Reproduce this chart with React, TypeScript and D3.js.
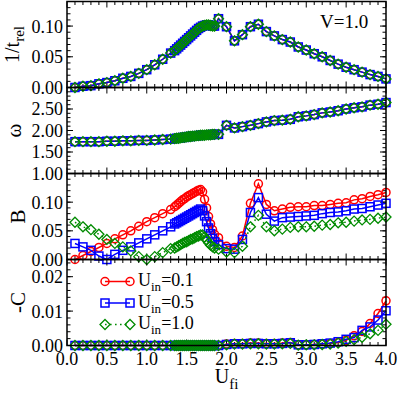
import React from 'react'
import * as d3 from 'd3'

// U_fi grid: coarse, then a fine scan across the transition, then coarse again
const U_FI = [
  0.1, 0.2, 0.3, 0.4, 0.5, 0.6, 0.7, 0.8, 0.9, 1.0, 1.1, 1.2, 1.3,
  1.35, 1.375, 1.4, 1.425, 1.45, 1.475, 1.5, 1.525, 1.55, 1.575, 1.6, 1.625, 1.65, 1.675, 1.7, 1.725, 1.75, 1.775, 1.8, 1.825, 1.85,
  1.9, 2.0, 2.1, 2.2, 2.3, 2.4, 2.5, 2.6, 2.7, 2.8, 2.9, 3.0, 3.1, 3.2, 3.3, 3.4, 3.5, 3.6, 3.7, 3.8, 3.9, 4.0,
]

// 1/t_rel and omega: the three U_in curves sit on top of each other
const T_REL = [
  0.000, 0.002, 0.003, 0.006, 0.008, 0.011, 0.015, 0.018, 0.023, 0.029, 0.037, 0.046, 0.056,
  0.060, 0.063, 0.066, 0.069, 0.072, 0.075, 0.078, 0.081, 0.084, 0.087, 0.090, 0.093, 0.096, 0.098, 0.100, 0.101, 0.102, 0.102, 0.101, 0.100, 0.100,
  0.112, 0.099, 0.076, 0.086, 0.099, 0.103, 0.091, 0.084, 0.078, 0.074, 0.066, 0.061, 0.055, 0.050, 0.044, 0.038, 0.033, 0.029, 0.025, 0.021, 0.018, 0.014,
]
const OMEGA = [
  1.74, 1.74, 1.74, 1.74, 1.75, 1.75, 1.76, 1.76, 1.77, 1.77, 1.78, 1.79, 1.80,
  1.81, 1.82, 1.82, 1.83, 1.84, 1.84, 1.85, 1.86, 1.86, 1.87, 1.87, 1.88, 1.88, 1.89, 1.89, 1.89, 1.90, 1.90, 1.90, 1.91, 1.91,
  1.91, 2.12, 2.06, 2.09, 2.12, 2.16, 2.20, 2.23, 2.24, 2.26, 2.32, 2.34, 2.37, 2.41, 2.43, 2.46, 2.50, 2.53, 2.55, 2.59, 2.61, 2.65,
]

const B_01 = [
  0.000, 0.007, 0.014, 0.021, 0.028, 0.036, 0.043, 0.050, 0.058, 0.066, 0.073, 0.080, 0.087,
  0.092, 0.095, 0.098, 0.101, 0.104, 0.106, 0.109, 0.111, 0.113, 0.115, 0.117, 0.119, 0.121, 0.122, 0.118, 0.105, 0.090, 0.075, 0.062, 0.052, 0.044,
  0.038, 0.023, 0.021, 0.041, 0.098, 0.132, 0.096, 0.085, 0.088, 0.091, 0.092, 0.092, 0.094, 0.094, 0.096, 0.098, 0.099, 0.104, 0.106, 0.110, 0.113, 0.117,
]
const B_05 = [
  0.028, 0.022, 0.016, 0.006, 0.000, 0.009, 0.016, 0.022, 0.029, 0.036, 0.043, 0.050, 0.057,
  0.062, 0.064, 0.066, 0.068, 0.070, 0.072, 0.074, 0.076, 0.078, 0.080, 0.082, 0.084, 0.086, 0.088, 0.085, 0.076, 0.066, 0.055, 0.045, 0.037, 0.031,
  0.026, 0.019, 0.018, 0.035, 0.082, 0.108, 0.079, 0.067, 0.073, 0.074, 0.075, 0.076, 0.077, 0.080, 0.082, 0.083, 0.085, 0.088, 0.089, 0.092, 0.095, 0.098,
]
const B_10 = [
  0.065, 0.057, 0.052, 0.044, 0.035, 0.028, 0.022, 0.015, 0.005, 0.000, 0.005, 0.012, 0.019,
  0.020, 0.022, 0.024, 0.026, 0.028, 0.030, 0.031, 0.033, 0.035, 0.036, 0.038, 0.040, 0.041, 0.043, 0.043, 0.039, 0.034, 0.029, 0.025, 0.022, 0.020,
  0.018, 0.013, 0.012, 0.023, 0.057, 0.077, 0.057, 0.050, 0.053, 0.056, 0.057, 0.057, 0.058, 0.060, 0.061, 0.064, 0.065, 0.067, 0.069, 0.070, 0.072, 0.074,
]

const C_01 = [
  0, 0, 0, 0, 0, 0, 0, 0, 0, 0, 0, 0, 0,
  0, 0, 0, 0, 0, 0, 0, 0, 0, 0, 0, 0, 0, 0, 0, 0, 0, 0, 0, 0, 0,
  0.0000, 0.0004, 0.0006, 0.0006, 0.0007, 0.0007, 0.0006, 0.0006, 0.0007, 0.0009, 0.0002, 0.0002, 0.0003, 0.0004, 0.0006, 0.0009, 0.0015, 0.0028, 0.0041, 0.0064, 0.0093, 0.0130,
]
const C_05 = [
  0, 0, 0, 0, 0, 0, 0, 0, 0, 0, 0, 0, 0,
  0, 0, 0, 0, 0, 0, 0, 0, 0, 0, 0, 0, 0, 0, 0, 0, 0, 0, 0, 0, 0,
  0.0000, 0.0003, 0.0005, 0.0005, 0.0006, 0.0006, 0.0005, 0.0005, 0.0006, 0.0008, 0.0002, 0.0002, 0.0003, 0.0005, 0.0007, 0.0011, 0.0018, 0.0023, 0.0044, 0.0054, 0.0074, 0.0101,
]
const C_10 = [
  0, 0, 0, 0, 0, 0, 0, 0, 0, 0, 0, 0, 0,
  0, 0, 0, 0, 0, 0, 0, 0, 0, 0, 0, 0, 0, 0, 0, 0, 0, 0, 0, 0, 0,
  0.0000, 0.0002, 0.0004, 0.0004, 0.0005, 0.0005, 0.0004, 0.0004, 0.0005, 0.0006, 0.0001, 0.0002, 0.0002, 0.0003, 0.0004, 0.0007, 0.0012, 0.0017, 0.0024, 0.0034, 0.0044, 0.0062,
]

const U_IN = ['0.1', '0.5', '1.0']
const X_TICKS = [0, 0.5, 1.0, 1.5, 2.0, 2.5, 3.0, 3.5, 4.0]
const T_REL_TICKS = [0, 0.05, 0.10]
const OMEGA_TICKS = [1.0, 1.5, 2.0, 2.5]
const B_TICKS = [0, 0.05, 0.10]
const C_TICKS = [0, 0.01, 0.02]

const W = 399
const H = 394
const X0 = 67
const X1 = 386
const PANEL_TOP = 1.5
const PANEL_H = 86
const FONT = '"Liberation Serif", "Times New Roman", serif'

const STYLES = [
  { color: '#ff0000', marker: 'circle', dash: undefined },
  { color: '#0000ff', marker: 'square', dash: undefined },
  { color: '#008b00', marker: 'diamond', dash: '1.6,3.4' },
]

const PANELS = [
  { domain: [0, 0.14], ticks: T_REL_TICKS, minor: 0.01, fmt: '.2f', label: 'trel', labelX: 19, series: [T_REL, T_REL, T_REL] },
  { domain: [1, 3], ticks: OMEGA_TICKS, minor: 0.1, fmt: '.2f', label: 'omega', labelX: 21, series: [OMEGA, OMEGA, OMEGA] },
  { domain: [0, 0.15], ticks: B_TICKS, minor: 0.01, fmt: '.2f', label: 'B', labelX: 25, series: [B_01, B_05, B_10] },
  { domain: [0, 0.025], ticks: C_TICKS, minor: 0.002, fmt: '.2f', label: '-C', labelX: 25, series: [C_01, C_05, C_10] },
]

function Marker({ kind, x, y, color }: { kind: string; x: number; y: number; color: string }) {
  if (kind === 'circle') return <circle cx={x} cy={y} r={4} fill="none" stroke={color} strokeWidth={1.5} />
  if (kind === 'square') return <rect x={x - 4} y={y - 4} width={8} height={8} fill="none" stroke={color} strokeWidth={1.5} />
  const d = 5
  return <path d={`M${x},${y - d}L${x + d},${y}L${x},${y + d}L${x - d},${y}Z`} fill="none" stroke={color} strokeWidth={1.3} />
}

function YLabel({ kind, x, cy }: { kind: string; x: number; cy: number }) {
  const t = `translate(${x},${cy}) rotate(-90)`
  if (kind === 'trel')
    return (
      <text transform={t} textAnchor="middle" fontSize={20}>
        1/t<tspan dy={5} fontSize={15}>rel</tspan>
      </text>
    )
  if (kind === 'omega')
    return <text transform={t} textAnchor="middle" fontSize={21}>ω</text>
  return <text transform={t} textAnchor="middle" fontSize={21}>{kind}</text>
}

export default function App() {
  const x = d3.scaleLinear().domain([0, 4]).range([X0, X1])
  const xMinor = d3.range(0, 4.0001, 0.1)
  const line = d3.line<[number, number]>()

  return (
    <svg width={W} height={H} style={{ position: 'absolute', left: 0, top: 0, background: '#fff' }} fontFamily={FONT}>
      {PANELS.map((p, pi) => {
        const top = PANEL_TOP + pi * PANEL_H
        const bottom = top + PANEL_H
        const y = d3.scaleLinear().domain(p.domain).range([bottom, top])
        const yMinor = d3.range(p.domain[0], p.domain[1] + 1e-9, p.minor).filter(v => v < p.domain[1] - 1e-9 && v > p.domain[0] + 1e-9)
        const fmt = d3.format(p.fmt)
        return (
          <g key={pi}>
            {/* ticks, inward on all sides */}
            <g stroke="#000" strokeWidth={1}>
              {xMinor.map((v, i) => {
                const major = Math.abs(v * 2 - Math.round(v * 2)) < 1e-6
                const len = major ? 6 : 3.5
                return (
                  <g key={i}>
                    <line x1={x(v)} x2={x(v)} y1={bottom} y2={bottom - len} />
                    <line x1={x(v)} x2={x(v)} y1={top} y2={top + len} />
                  </g>
                )
              })}
              {yMinor.map((v, i) => (
                <g key={'m' + i}>
                  <line x1={X0} x2={X0 + 3.5} y1={y(v)} y2={y(v)} />
                  <line x1={X1} x2={X1 - 3.5} y1={y(v)} y2={y(v)} />
                </g>
              ))}
              {p.ticks.map((v, i) => (
                <g key={'M' + i}>
                  <line x1={X0} x2={X0 + 6} y1={y(v)} y2={y(v)} />
                  <line x1={X1} x2={X1 - 6} y1={y(v)} y2={y(v)} />
                </g>
              ))}
            </g>
            {p.ticks.map((v, i) => (
              <text key={'l' + i} x={X0 - 4} y={y(v)} dy="0.36em" textAnchor="end" fontSize={18}>
                {fmt(v)}
              </text>
            ))}
            <YLabel kind={p.label} x={p.labelX} cy={(top + bottom) / 2} />
            {/* data */}
            {p.series.map((vals, si) => {
              const st = STYLES[si]
              const pts = U_FI.map((u, i) => [x(u), y(vals[i])] as [number, number])
              return (
                <g key={'s' + si}>
                  <path d={line(pts) || ''} fill="none" stroke={st.color} strokeWidth={1.5} strokeDasharray={st.dash} />
                  {pts.map((pt, i) => (
                    <Marker key={i} kind={st.marker} x={pt[0]} y={pt[1]} color={st.color} />
                  ))}
                </g>
              )
            })}
            <rect x={X0} y={top} width={X1 - X0} height={PANEL_H} fill="none" stroke="#000" strokeWidth={1.5} />
          </g>
        )
      })}

      <text x={320} y={28} fontSize={19}>V=1.0</text>

      {/* legend in the -C panel */}
      {U_IN.map((u, i) => {
        const st = STYLES[i]
        const ry = 281.5 + i * 21.5
        return (
          <g key={'leg' + i}>
            <line x1={105} x2={130} y1={ry} y2={ry} stroke={st.color} strokeWidth={1.5} strokeDasharray={st.dash} />
            <Marker kind={st.marker} x={105} y={ry} color={st.color} />
            <Marker kind={st.marker} x={130} y={ry} color={st.color} />
            <text x={138} y={ry + 4.5} fontSize={18}>
              U<tspan dy={5} fontSize={13}>in</tspan><tspan dy={-5}>={u}</tspan>
            </text>
          </g>
        )
      })}

      {X_TICKS.map((v, i) => (
        <text key={'x' + i} x={x(v)} y={365} textAnchor="middle" fontSize={18}>
          {d3.format('.1f')(v)}
        </text>
      ))}
      <text x={(X0 + X1) / 2} y={383} textAnchor="middle" fontSize={20}>
        U<tspan dy={6} fontSize={15}>fi</tspan>
      </text>
    </svg>
  )
}
